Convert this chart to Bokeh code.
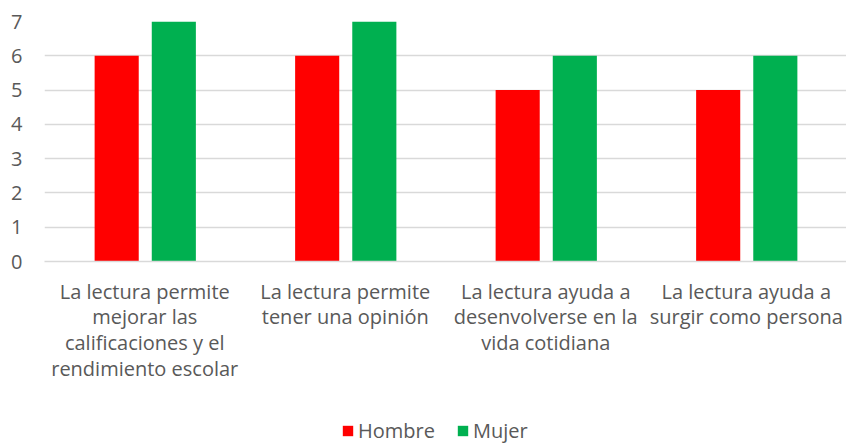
from bokeh.plotting import figure
from bokeh.layouts import column
from bokeh.models import ColumnDataSource, FactorRange, Legend, LegendItem, FixedTicker, Range1d
from bokeh.transform import dodge
from bokeh.embed import file_html
from bokeh.resources import INLINE

categories = [
    "La lectura permite\nmejorar las\ncalificaciones y el\nrendimiento escolar",
    "La lectura permite\ntener una opinión",
    "La lectura ayuda a\ndesenvolverse en la\nvida cotidiana",
    "La lectura ayuda a\nsurgir como persona",
]
hombre = [6, 6, 5, 5]
mujer = [7, 7, 6, 6]
series_names = ["Hombre", "Mujer"]
series_colors = ["#FF0000", "#00B050"]
y_ticks = [0, 1, 2, 3, 4, 5, 6, 7]

FONT = "Open Sans"
TXT = "#595959"
GRID = "#D9D9D9"

src = ColumnDataSource(dict(cat=categories, hombre=hombre, mujer=mujer))

p = figure(x_range=FactorRange(*categories), y_range=(0, 7),
           width=846, height=412, output_backend="svg", toolbar_location=None,
           min_border_left=44, min_border_top=21, min_border_right=0, min_border_bottom=151)
p.outline_line_color = None

p.vbar(x=dodge("cat", -0.14, range=p.x_range), top="hombre", width=0.22,
       source=src, fill_color=series_colors[0], line_color=None)
p.vbar(x=dodge("cat", 0.145, range=p.x_range), top="mujer", width=0.22,
       source=src, fill_color=series_colors[1], line_color=None)

p.xgrid.grid_line_color = None
p.ygrid.grid_line_color = GRID
p.ygrid.grid_line_width = 1.5
p.yaxis.ticker = FixedTicker(ticks=y_ticks)
p.yaxis.axis_line_color = None
p.yaxis.major_tick_line_color = None
p.yaxis.minor_tick_line_color = None
p.yaxis.major_label_standoff = 16
p.xaxis.axis_line_color = GRID
p.xaxis.axis_line_width = 1.5
p.xaxis.major_tick_line_color = None
p.xaxis.minor_tick_line_color = None
p.xaxis.major_label_standoff = 10
for ax in (p.xaxis[0], p.yaxis[0]):
    ax.major_label_text_font = FONT
    ax.major_label_text_font_size = "20px"
    ax.major_label_text_color = TXT
p.xaxis.major_label_text_line_height = 0.96

# legend strip below the chart (zero-height placeholder bars carry the legend swatches)
lg = figure(width=846, height=32, output_backend="svg", toolbar_location=None,
            x_range=Range1d(0, 1), y_range=Range1d(0, 1),
            min_border=0)
lg.axis.visible = False
lg.grid.visible = False
lg.outline_line_color = None
items = []
for name, col in zip(series_names, series_colors):
    dummy = ColumnDataSource(dict(x=[0.5], top=[0]))
    rr = lg.vbar(x="x", top="top", width=0.01, source=dummy, fill_color=col, line_color=None)
    items.append(LegendItem(label=name, renderers=[rr]))
legend = Legend(items=items, orientation="horizontal", location=(297, 0),
                border_line_color=None, background_fill_alpha=0,
                label_text_font=FONT, label_text_font_size="20px", label_text_color=TXT,
                glyph_width=13, glyph_height=13, label_standoff=4, spacing=21,
                padding=0, margin=0)
lg.add_layout(legend, "center")

layout = column(p, lg, spacing=0)
open("out.html", "w").write(file_html(layout, INLINE))
